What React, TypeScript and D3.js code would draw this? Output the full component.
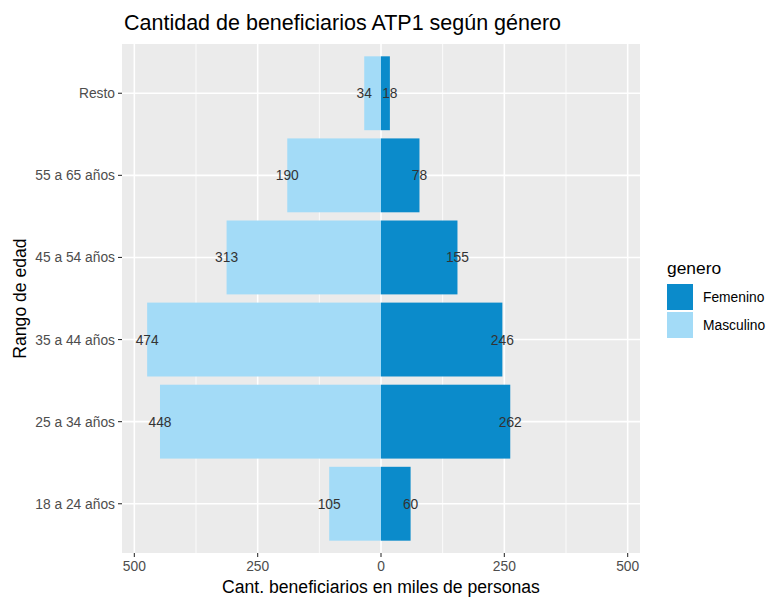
import React from "react";
import * as d3 from "d3";

const categories = ["Resto", "55 a 65 años", "45 a 54 años", "35 a 44 años", "25 a 34 años", "18 a 24 años"];
const masculino = [34, 190, 313, 474, 448, 105];
const femenino = [18, 78, 155, 246, 262, 60];
const xTicks = [-500, -250, 0, 250, 500];
const xMinor = [-375, -125, 125, 375];
const seriesNames = ["Femenino", "Masculino"];
const colors = { Femenino: "#0B8BCB", Masculino: "#A3DBF7" };

export default function App() {
  const W = 772, H = 600;
  const left = 122, right = 640, top = 44, bottom = 553;
  const x = d3.scaleLinear().domain([-525, 525]).range([left, right]);
  const step = (bottom - top) / 6.2;
  const y = (i: number) => top + step * (0.6 + i);
  const bh = step * 0.9;
  const font = "Liberation Sans, Arial, Helvetica, sans-serif";
  const fs = 13.8;
  return (
    <svg width={W} height={H} style={{ position: "absolute", left: 0, top: 0 }} fontFamily={font}>
      <rect x={0} y={0} width={W} height={H} fill="#fff" />
      <text x={124} y={30} fontSize={21.5} fill="#000">Cantidad de beneficiarios ATP1 según género</text>
      <rect x={left} y={top} width={right - left} height={bottom - top} fill="#EBEBEB" />
      {xMinor.map((v) => (
        <line key={"mn" + v} x1={x(v)} x2={x(v)} y1={top} y2={bottom} stroke="#fff" strokeWidth={0.8} />
      ))}
      {xTicks.map((v) => (
        <line key={"mj" + v} x1={x(v)} x2={x(v)} y1={top} y2={bottom} stroke="#fff" strokeWidth={1.6} />
      ))}
      {categories.map((c, i) => (
        <line key={"hy" + c} x1={left} x2={right} y1={y(i)} y2={y(i)} stroke="#fff" strokeWidth={1.6} />
      ))}
      {categories.map((c, i) => (
        <g key={"b" + c}>
          <rect x={x(-masculino[i])} y={y(i) - bh / 2} width={x(0) - x(-masculino[i])} height={bh} fill={colors.Masculino} />
          <rect x={x(0)} y={y(i) - bh / 2} width={x(femenino[i]) - x(0)} height={bh} fill={colors.Femenino} />
          <text x={x(-masculino[i])} y={y(i) + 5} textAnchor="middle" fontSize={fs} fill="#333">{masculino[i]}</text>
          <text x={x(femenino[i])} y={y(i) + 5} textAnchor="middle" fontSize={fs} fill="#333">{femenino[i]}</text>
        </g>
      ))}
      {categories.map((c, i) => (
        <g key={"yt" + c}>
          <line x1={left - 4} x2={left} y1={y(i)} y2={y(i)} stroke="#333" strokeWidth={1.1} />
          <text x={left - 7} y={y(i) + 5} textAnchor="end" fontSize={fs} fill="#4D4D4D">{c}</text>
        </g>
      ))}
      {xTicks.map((v) => (
        <g key={"xt" + v}>
          <line x1={x(v)} x2={x(v)} y1={bottom} y2={bottom + 4} stroke="#333" strokeWidth={1.1} />
          <text x={x(v)} y={bottom + 18} textAnchor="middle" fontSize={fs} fill="#4D4D4D">{Math.abs(v)}</text>
        </g>
      ))}
      <text x={(left + right) / 2} y={593} textAnchor="middle" fontSize={17.6} fill="#000">Cant. beneficiarios en miles de personas</text>
      <text transform={`translate(26,${(top + bottom) / 2}) rotate(-90)`} textAnchor="middle" fontSize={17.6} fill="#000">Rango de edad</text>
      <text x={667} y={274} fontSize={17.4} fill="#000">genero</text>
      {seriesNames.map((s, i) => (
        <g key={"lg" + s}>
          <rect x={667} y={284 + i * 28} width={26} height={26} fill={(colors as any)[s]} />
          <text x={703} y={302 + i * 28} fontSize={fs} fill="#000">{s}</text>
        </g>
      ))}
    </svg>
  );
}
